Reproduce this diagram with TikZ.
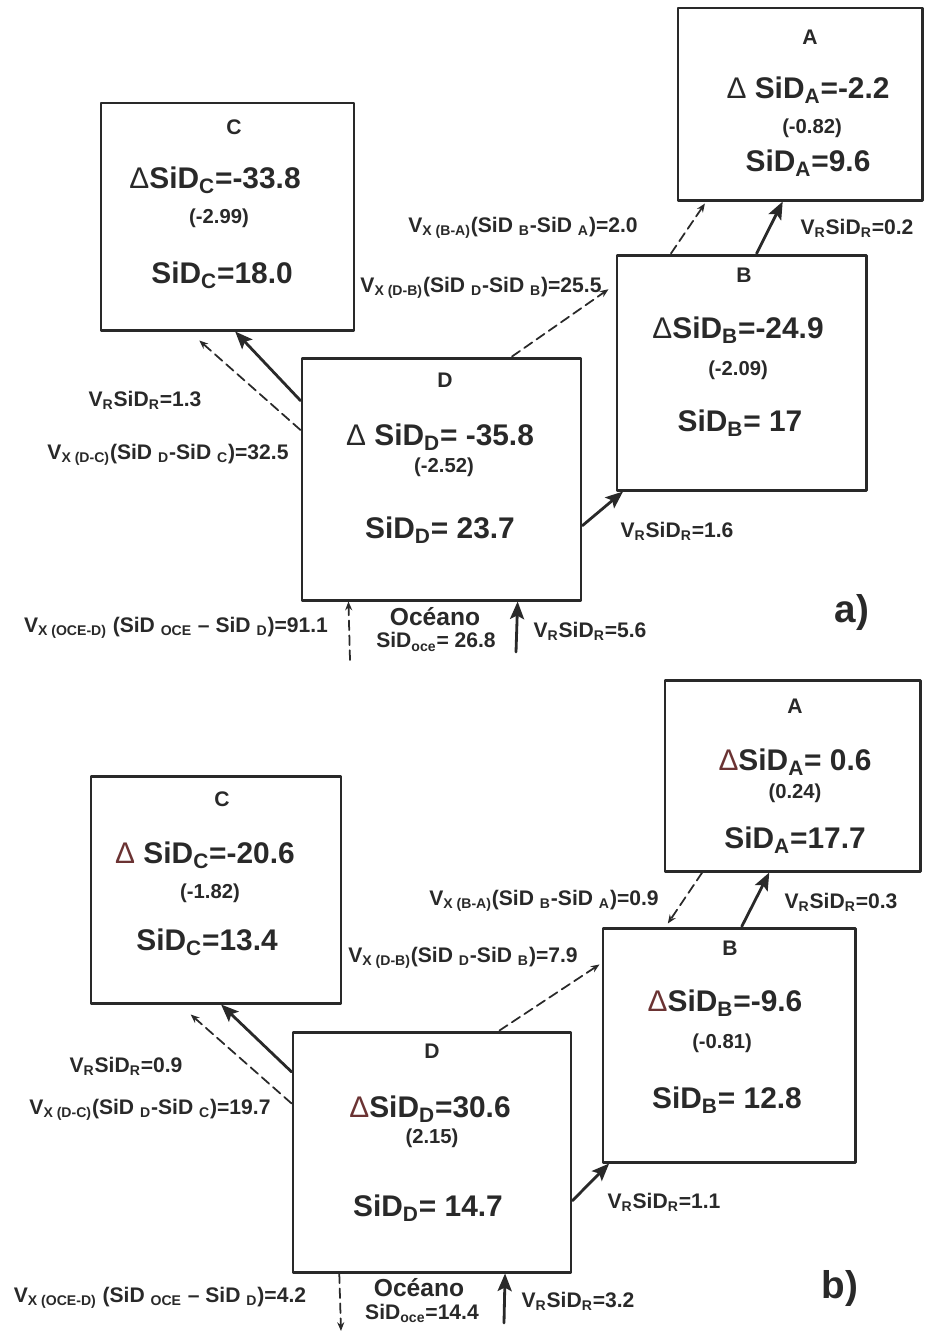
\documentclass[tikz,border=0pt]{standalone}
\usepackage{fontspec}
\setmainfont{Liberation Sans}
\usetikzlibrary{arrows.meta,calc,fit}

\definecolor{ink}{gray}{0.16}
\definecolor{dltred}{rgb}{0.42,0.20,0.20}

% triangle of the Delta, thin (regular weight)
\newcommand{\dlt}[1][ink]{{\mdseries\textcolor{#1}{Δ}}}
\newcommand{\sbs}[1]{\textsubscript{#1}}

\begin{document}
\begin{tikzpicture}[x=0.02cm,y=-0.02cm,line cap=round,line join=round,
  box/.style={draw=ink,line width=1.7pt,inner sep=0pt},
  ttl/.style={font=\fontsize{12}{14}\selectfont\bfseries,text=ink},
  big/.style={font=\fontsize{17}{20}\selectfont\bfseries,text=ink},
  mid/.style={font=\fontsize{11.5}{13}\selectfont\bfseries,text=ink},
  lbl/.style={font=\fontsize{12}{14}\selectfont\bfseries,text=ink},
  ocn/.style={font=\fontsize{14}{16}\selectfont\bfseries,text=ink},
  tag/.style={font=\fontsize{22}{26}\selectfont\bfseries,text=ink},
  flux/.style={draw=ink,line width=1.6pt,-{Stealth[length=10pt,width=8pt,inset=2pt]}},
  mix/.style={draw=ink,line width=1pt,dash pattern=on 5.5pt off 3pt,-{Stealth[length=5pt,width=4pt]}}]

\useasboundingbox (0,0) rectangle (928,1333);

% -----------------------
% a) boxes
% -----------------------
\node[box,fit={(678,8) (922,200)}]    (Aa) {};
\node[box,fit={(101,103) (354,330)}]  (Ca) {};
\node[box,fit={(617,255) (866,490)}]  (Ba) {};
\node[box,fit={(302,358) (581,600)}]  (Da) {};

% box texts
\node[ttl] (Aa-t) at (810,37)  {A};
\node[big] (Aa-d) at (808,90)  {\dlt{} SiD\sbs{A}=-2.2};
\node[mid] (Aa-p) at (812,128) {(-0.82)};
\node[big] (Aa-s) at (808,163) {SiD\sbs{A}=9.6};

\node[ttl] (Ca-t) at (234,127) {C};
\node[big] (Ca-d) at (215,180) {\dlt SiD\sbs{C}=-33.8};
\node[mid] (Ca-p) at (219,218) {(-2.99)};
\node[big] (Ca-s) at (222,275) {SiD\sbs{C}=18.0};

\node[ttl] (Ba-t) at (744,275) {B};
\node[big] (Ba-d) at (738,330) {\dlt SiD\sbs{B}=-24.9};
\node[mid] (Ba-p) at (738,370) {(-2.09)};
\node[big] (Ba-s) at (740,423) {SiD\sbs{B}= 17};

\node[ttl] (Da-t) at (445,380) {D};
\node[big] (Da-d) at (440,437) {\dlt{} SiD\sbs{D}= -35.8};
\node[mid] (Da-p) at (444,467) {(-2.52)};
\node[big] (Da-s) at (440,530) {SiD\sbs{D}= 23.7};

% flux labels
\node[lbl] (Ta1) at (523,228) {V\sbs{X (B-A)}(SiD \sbs{B}-SiD \sbs{A})=2.0};
\node[lbl] (Ta2) at (857,228) {V\sbs{R}SiD\sbs{R}=0.2};
\node[lbl] (Ta3) at (481,288) {V\sbs{X (D-B)}(SiD \sbs{D}-SiD \sbs{B})=25.5};
\node[lbl] (Ta4) at (145,400) {V\sbs{R}SiD\sbs{R}=1.3};
\node[lbl] (Ta5) at (168,455) {V\sbs{X (D-C)}(SiD \sbs{D}-SiD \sbs{C})=32.5};
\node[lbl] (Ta6) at (677,531) {V\sbs{R}SiD\sbs{R}=1.6};
\node[lbl] (Ta7) at (176,628) {V\sbs{X (OCE-D)} (SiD \sbs{OCE} -- SiD \sbs{D})=91.1};
\node[lbl] (Ta8) at (590,631) {V\sbs{R}SiD\sbs{R}=5.6};
\node[ocn] (Oa)  at (435,617) {Océano};
\node[lbl] (Oa-s) at (436,642) {SiD\sbs{oce}= 26.8};
\node[tag] (tagA) at (852,612) {a)};

% arrows
\coordinate (oa1) at (516,652);
\coordinate (oa2) at (350,660);
\draw[flux] ($(Da.north west)!0.18!(Da.south west)$) -- ($(Ca.south west)!0.53!(Ca.south east)$);
\draw[mix]  ($(Da.north west)!0.30!(Da.south west)$) -- ($(Ca.south west)!0.39!(Ca.south east)+(0,9)$);
\draw[mix]  ($(Da.north west)!0.75!(Da.north east)$) -- ($(Ba.north west)!0.15!(Ba.south west)+(-7,0)$);
\draw[mix]  ($(Ba.north west)!0.22!(Ba.north east)$) -- ($(Aa.south west)!0.115!(Aa.south east)+(0,2)$);
\draw[flux] ($(Ba.north west)!0.56!(Ba.north east)$) -- ($(Aa.south west)!0.43!(Aa.south east)$);
\draw[flux] ($(Da.north east)!0.69!(Da.south east)$) -- ($(Ba.south west)!0.03!(Ba.south east)$);
\draw[flux] (oa1) -- ($(Da.south west)!0.77!(Da.south east)$);
\draw[mix]  (oa2) -- ($(Da.south west)!0.17!(Da.south east)$);

% -----------------------
% b) boxes
% -----------------------
\node[box,fit={(665,680) (920,871)}]   (Ab) {};
\node[box,fit={(91,776) (341,1003)}]   (Cb) {};
\node[box,fit={(603,928) (855,1162)}]  (Bb) {};
\node[box,fit={(293,1032) (571,1272)}] (Db) {};

% box texts
\node[ttl] (Ab-t) at (795,706)  {A};
\node[big] (Ab-d) at (795,762)  {\dlt[dltred]SiD\sbs{A}= 0.6};
\node[mid] (Ab-p) at (795,793)  {(0.24)};
\node[big] (Ab-s) at (795,840)  {SiD\sbs{A}=17.7};

\node[ttl] (Cb-t) at (222,799)  {C};
\node[big] (Cb-d) at (205,855)  {\dlt[dltred] SiD\sbs{C}=-20.6};
\node[mid] (Cb-p) at (210,893)  {(-1.82)};
\node[big] (Cb-s) at (207,942)  {SiD\sbs{C}=13.4};

\node[ttl] (Bb-t) at (730,948)  {B};
\node[big] (Bb-d) at (725,1003) {\dlt[dltred]SiD\sbs{B}=-9.6};
\node[mid] (Bb-p) at (722,1043) {(-0.81)};
\node[big] (Bb-s) at (727,1100) {SiD\sbs{B}= 12.8};

\node[ttl] (Db-t) at (432,1051) {D};
\node[big] (Db-d) at (430,1109) {\dlt[dltred]SiD\sbs{D}=30.6};
\node[mid] (Db-p) at (432,1138) {(2.15)};
\node[big] (Db-s) at (428,1208) {SiD\sbs{D}= 14.7};

% flux labels
\node[lbl] (Tb1) at (544,901)  {V\sbs{X (B-A)}(SiD \sbs{B}-SiD \sbs{A})=0.9};
\node[lbl] (Tb2) at (841,902)  {V\sbs{R}SiD\sbs{R}=0.3};
\node[lbl] (Tb3) at (463,958)  {V\sbs{X (D-B)}(SiD \sbs{D}-SiD \sbs{B})=7.9};
\node[lbl] (Tb4) at (126,1066) {V\sbs{R}SiD\sbs{R}=0.9};
\node[lbl] (Tb5) at (150,1110) {V\sbs{X (D-C)}(SiD \sbs{D}-SiD \sbs{C})=19.7};
\node[lbl] (Tb6) at (664,1202) {V\sbs{R}SiD\sbs{R}=1.1};
\node[lbl] (Tb7) at (160,1298) {V\sbs{X (OCE-D)} (SiD \sbs{OCE} -- SiD \sbs{D})=4.2};
\node[lbl] (Tb8) at (578,1301) {V\sbs{R}SiD\sbs{R}=3.2};
\node[ocn] (Ob)  at (419,1288) {Océano};
\node[lbl] (Ob-s) at (422,1313) {SiD\sbs{oce}=14.4};
\node[tag] (tagB) at (840,1288) {b)};

% arrows
\coordinate (ob1) at (504,1323);
\coordinate (ob2) at (341,1331);
\draw[flux] ($(Db.north west)!0.17!(Db.south west)$) -- ($(Cb.south west)!0.52!(Cb.south east)$);
\draw[mix]  ($(Db.north west)!0.30!(Db.south west)$) -- ($(Cb.south west)!0.40!(Cb.south east)+(0,10)$);
\draw[mix]  ($(Db.north west)!0.74!(Db.north east)$) -- ($(Bb.north west)!0.16!(Bb.south west)+(-2,0)$);
\draw[mix]  ($(Ab.south west)!0.15!(Ab.south east)$) -- ($(Bb.north west)!0.26!(Bb.north east)+(0,-3)$);
\draw[flux] ($(Bb.north west)!0.55!(Bb.north east)$) -- ($(Ab.south west)!0.41!(Ab.south east)$);
\draw[flux] ($(Db.north east)!0.70!(Db.south east)$) -- ($(Bb.south west)!0.03!(Bb.south east)$);
\draw[flux] (ob1) -- ($(Db.south west)!0.76!(Db.south east)$);
\draw[mix]  ($(Db.south west)!0.17!(Db.south east)$) -- (ob2);

\end{tikzpicture}
\end{document}
